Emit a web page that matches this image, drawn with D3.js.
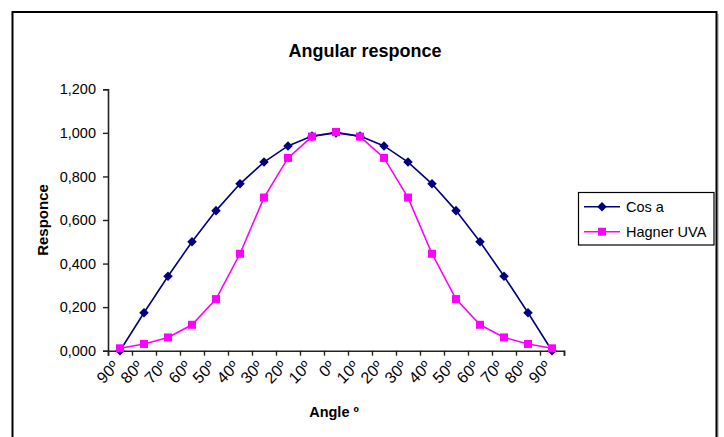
<!DOCTYPE html>
<html>
<head>
<meta charset="utf-8">
<script src="https://cdn.jsdelivr.net/npm/d3@7"></script>
<style>
  body { margin: 0; background: white; }
  svg { display: block; font-family: "Liberation Sans", Arial, sans-serif; }
</style>
</head>
<body>
<svg width="724" height="437"></svg>
<script>
// tick labels of the category axis
var angles = ["90º", "80º", "70º", "60º", "50º", "40º", "30º", "20º", "10º", "0º",
              "10º", "20º", "30º", "40º", "50º", "60º", "70º", "80º", "90º"];
// series
var cosA = [0.000, 0.174, 0.342, 0.500, 0.643, 0.766, 0.866, 0.940, 0.985, 1.000,
            0.985, 0.940, 0.866, 0.766, 0.643, 0.500, 0.342, 0.174, 0.000];
var hagnerUVA = [0.011, 0.031, 0.061, 0.119, 0.237, 0.445, 0.703, 0.885, 0.983, 1.004,
                 0.983, 0.885, 0.703, 0.445, 0.237, 0.119, 0.061, 0.031, 0.011];
var yTicks = [0, 0.2, 0.4, 0.6, 0.8, 1.0, 1.2];

var svg = d3.select("svg");

// outer chart border
svg.append("line").attr("x1", 718).attr("x2", 718).attr("y1", 14).attr("y2", 437)
  .attr("stroke", "#999").attr("stroke-width", 1);
svg.append("rect")
  .attr("x", 12.5).attr("y", 12).attr("width", 704).attr("height", 440)
  .attr("fill", "none").attr("stroke", "black").attr("stroke-width", 2);

var plotLeft = 108, plotRight = 564, plotTop = 89.3, plotBottom = 350.7;

var x = d3.scaleBand().domain(d3.range(angles.length)).range([plotLeft, plotRight]).padding(0);
var xb = d3.scaleLinear().domain([0, angles.length]).range([plotLeft, plotRight]);
var y = d3.scaleLinear().domain([0, 1.2]).range([plotBottom, plotTop]);

var fmt = function(v) { return d3.format(".3f")(v).replace(".", ","); };

// y axis
var yAxis = svg.append("g")
  .attr("transform", "translate(" + plotLeft + ",0)")
  .call(d3.axisLeft(y).tickValues(yTicks).tickFormat(fmt).tickSize(5).tickPadding(7));
yAxis.attr("font-size", null).attr("font-family", null);
yAxis.selectAll("text").attr("font-size", 14.5).attr("fill", "black");

// x axis: ticks on category boundaries
svg.append("g")
  .attr("transform", "translate(0," + plotBottom + ")")
  .call(d3.axisBottom(xb).tickValues(d3.range(angles.length + 1)).tickFormat("").tickSize(5));

svg.selectAll(".domain").attr("stroke", "#222").attr("stroke-width", 1.6);
svg.selectAll(".tick line").attr("stroke", "#222").attr("stroke-width", 1.4);

// rotated category labels
svg.append("g").selectAll("text")
  .data(angles).enter()
  .append("text")
  .attr("transform", function(d, i) {
    return "translate(" + (x(i) + x.bandwidth() / 2 - 4) + "," + (plotBottom + 13) + ") rotate(-45)";
  })
  .attr("text-anchor", "end")
  .attr("dy", "0.35em")
  .attr("font-size", 16)
  .text(function(d) { return d; });

// lines
var line = function(vals) {
  return d3.line()
    .x(function(d, i) { return x(i) + x.bandwidth() / 2; })
    .y(function(d) { return y(d); })(vals);
};

svg.append("path").attr("d", line(hagnerUVA))
  .attr("fill", "none").attr("stroke", "#ff00ff").attr("stroke-width", 1.6);
svg.append("path").attr("d", line(cosA))
  .attr("fill", "none").attr("stroke", "#000080").attr("stroke-width", 1.6);

var diamond = d3.symbol().type(d3.symbolDiamond2).size(58);
var sq = 8;

svg.append("g").selectAll("path")
  .data(cosA).enter()
  .append("path")
  .attr("d", diamond)
  .attr("transform", function(d, i) {
    return "translate(" + (x(i) + x.bandwidth() / 2) + "," + y(d) + ")";
  })
  .attr("fill", "#000080");

svg.append("g").selectAll("rect")
  .data(hagnerUVA).enter()
  .append("rect")
  .attr("x", function(d, i) { return x(i) + x.bandwidth() / 2 - sq / 2; })
  .attr("y", function(d) { return y(d) - sq / 2; })
  .attr("width", sq).attr("height", sq)
  .attr("fill", "#ff00ff");

// titles
svg.append("text").attr("x", 365).attr("y", 57).attr("text-anchor", "middle")
  .attr("font-size", 18).attr("font-weight", "bold").text("Angular responce");
svg.append("text").attr("x", 334).attr("y", 417).attr("text-anchor", "middle")
  .attr("font-size", 14.5).attr("font-weight", "bold").text("Angle º");
svg.append("text").attr("transform", "translate(48,220) rotate(-90)")
  .attr("text-anchor", "middle")
  .attr("font-size", 15).attr("font-weight", "bold").text("Responce");

// legend
var legend = svg.append("g");
legend.append("rect").attr("x", 578.5).attr("y", 192.5).attr("width", 135.5).attr("height", 52.5)
  .attr("fill", "white").attr("stroke", "black").attr("stroke-width", 1.2);
var items = [
  {name: "Cos a", color: "#000080", ly: 206.7, shape: "diamond"},
  {name: "Hagner UVA", color: "#ff00ff", ly: 231.7, shape: "square"}
];
items.forEach(function(it) {
  legend.append("line").attr("x1", 584).attr("x2", 620).attr("y1", it.ly).attr("y2", it.ly)
    .attr("stroke", it.color).attr("stroke-width", 1.6);
  if (it.shape == "diamond") {
    legend.append("path").attr("d", diamond)
      .attr("transform", "translate(602," + it.ly + ")").attr("fill", it.color);
  } else {
    legend.append("rect").attr("x", 602 - sq / 2).attr("y", it.ly - sq / 2)
      .attr("width", sq).attr("height", sq).attr("fill", it.color);
  }
  legend.append("text").attr("x", 626).attr("y", it.ly).attr("dy", "0.35em")
    .attr("font-size", 14.5).text(it.name);
});
</script>
</body>
</html>
